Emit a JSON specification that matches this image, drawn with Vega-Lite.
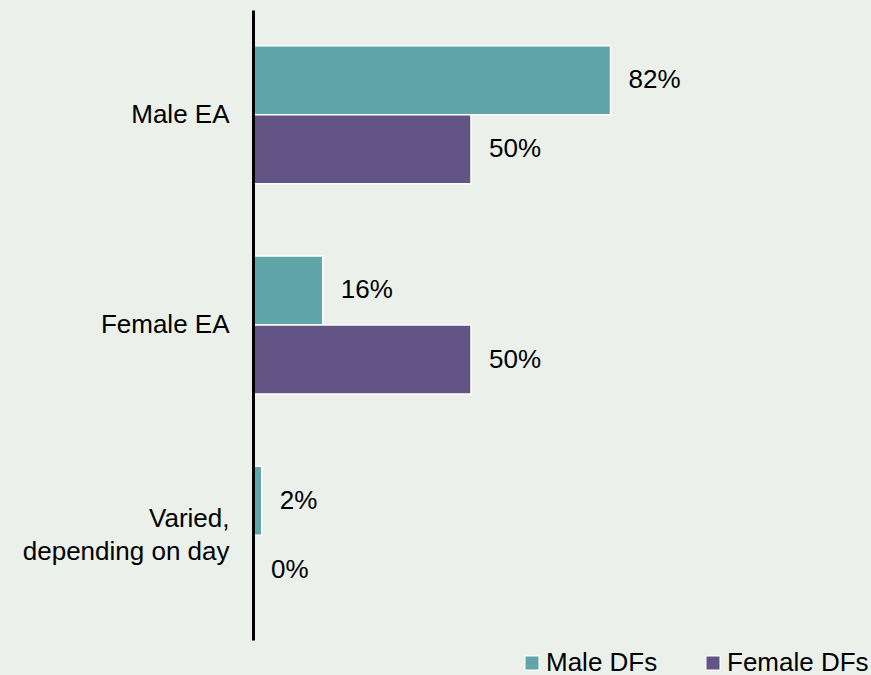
{
  "$schema": "https://vega.github.io/schema/vega-lite/v6.json",
  "width": 436,
  "height": 630,
  "autosize": {"type": "none"},
  "padding": {"left": 253, "top": 10, "right": 182, "bottom": 35},
  "background": "#ECF0EB",
  "config": {"view": {"stroke": null}, "font": "Liberation Sans"},
  "data": {
    "values": [
      {"category": "Male EA", "group": "Male DFs", "value": 0.82},
      {"category": "Male EA", "group": "Female DFs", "value": 0.50},
      {"category": "Female EA", "group": "Male DFs", "value": 0.16},
      {"category": "Female EA", "group": "Female DFs", "value": 0.50},
      {"category": "Varied,|depending on day", "group": "Male DFs", "value": 0.02},
      {"category": "Varied,|depending on day", "group": "Female DFs", "value": 0.0}
    ]
  },
  "encoding": {
    "y": {
      "field": "category",
      "type": "nominal",
      "sort": ["Male EA", "Female EA", "Varied,|depending on day"],
      "scale": {"paddingInner": 0.343, "paddingOuter": 0.17},
      "axis": {
        "title": null,
        "domain": true,
        "domainColor": "black",
        "domainWidth": 3,
        "ticks": false,
        "labelFontSize": 26,
        "labelColor": "black",
        "labelPadding": 24,
        "labelLimit": 400,
        "labelExpr": "split(datum.value, '|')",
        "labelLineHeight": 33,
        "labelOffset": {"condition": {"test": "indexof(datum.value, '|') >= 0", "value": -16}, "value": 0},
        "zindex": 1
      }
    },
    "yOffset": {"field": "group", "type": "nominal", "sort": ["Male DFs", "Female DFs"]},
    "x": {"field": "value", "type": "quantitative", "scale": {"domain": [0, 1]}, "axis": null}
  },
  "layer": [
    {
      "mark": {"type": "bar", "stroke": "white", "strokeWidth": 1.5},
      "encoding": {
        "color": {
          "field": "group",
          "type": "nominal",
          "sort": ["Male DFs", "Female DFs"],
          "scale": {"domain": ["Male DFs", "Female DFs"], "range": ["#60A5A9", "#635486"]},
          "legend": {
            "title": null,
            "orient": "none",
            "legendX": 266,
            "legendY": 640,
            "direction": "horizontal",
            "symbolType": "square",
            "symbolSize": 196,
            "symbolStrokeColor": "white",
            "symbolStrokeWidth": 1,
            "labelFontSize": 26,
            "labelColor": "black",
            "labelOffset": 1,
            "labelLimit": 300,
            "columnPadding": 42
          }
        }
      }
    },
    {
      "mark": {"type": "text", "align": "left", "baseline": "middle", "dx": 18, "fontSize": 26, "color": "black"},
      "encoding": {"text": {"field": "value", "type": "quantitative", "format": ".0%"}}
    }
  ]
}
